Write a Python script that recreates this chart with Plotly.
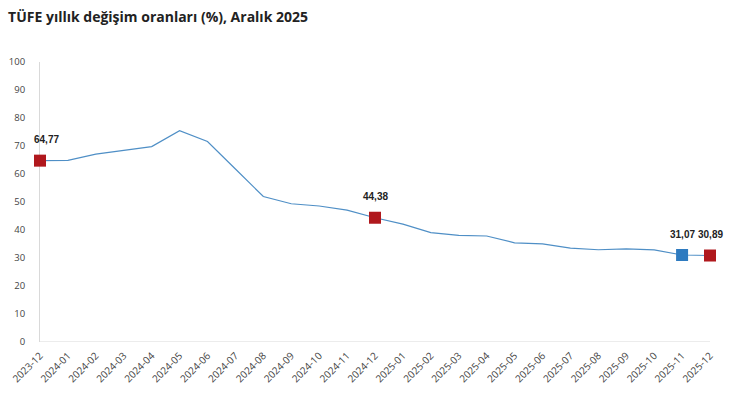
import plotly.graph_objects as go

months = ["2023-12", "2024-01", "2024-02", "2024-03", "2024-04", "2024-05", "2024-06",
          "2024-07", "2024-08", "2024-09", "2024-10", "2024-11", "2024-12", "2025-01",
          "2025-02", "2025-03", "2025-04", "2025-05", "2025-06", "2025-07", "2025-08",
          "2025-09", "2025-10", "2025-11", "2025-12"]
values = [64.77, 64.86, 67.07, 68.50, 69.80, 75.45, 71.60, 61.78, 51.97, 49.38, 48.58,
          47.09, 44.38, 42.12, 39.05, 38.10, 37.86, 35.41, 35.05, 33.52, 32.95, 33.29,
          32.87, 31.07, 30.89]
red_months = ["2023-12", "2024-12", "2025-12"]
blue_months = ["2025-11"]
y_ticks = [0, 10, 20, 30, 40, 50, 60, 70, 80, 90, 100]

lookup = dict(zip(months, values))

fig = go.Figure()
fig.add_trace(go.Scatter(x=months, y=values, mode="lines",
                         line=dict(color="#4f8fc6", width=1.2), hoverinfo="skip"))
fig.add_trace(go.Scatter(x=red_months, y=[lookup[m] for m in red_months], mode="markers",
                         marker=dict(symbol="square", size=12, color="#b0181d",
                                     line=dict(width=0)), cliponaxis=False))
fig.add_trace(go.Scatter(x=blue_months, y=[lookup[m] for m in blue_months], mode="markers",
                         marker=dict(symbol="square", size=12, color="#2e7bc0",
                                     line=dict(width=0)), cliponaxis=False))

for m in red_months + blue_months:
    v = lookup[m]
    label = f"{v:.2f}".replace(".", ",")
    fig.add_annotation(x=m, y=v, text=f"<b>{label}</b>",
                       showarrow=False, yshift=21, xshift=6 if m == months[0] else 0,
                       font=dict(size=10, color="#222222", family="Liberation Sans"))

fig.update_layout(
    width=734, height=398,
    margin=dict(l=40, r=24, t=62, b=56, autoexpand=False),
    paper_bgcolor="white", plot_bgcolor="white",
    showlegend=False,
    font=dict(family="Open Sans", color="#444444"),
    title=dict(text="<b>TÜFE yıllık değişim oranları (%), Aralık 2025</b>",
               x=0.011, xanchor="left", y=0.957, yanchor="middle",
               font=dict(size=14, color="#222222", family="Open Sans")),
)
fig.update_xaxes(type="category", range=[0, len(months) - 1], tickangle=-45,
                 automargin=False, layer="below traces",
                 showgrid=False, showline=False, zeroline=False, ticks="",
                 ticklabelstandoff=5,
                 tickfont=dict(size=10, color="#444444"))
fig.update_yaxes(range=[0, 100], tickvals=y_ticks, showgrid=False, zeroline=False,
                 automargin=False, layer="below traces",
                 showline=True, linecolor="#d9d9d9", linewidth=1, ticks="",
                 ticklabelstandoff=12,
                 tickfont=dict(size=9.5, color="#444444"))
fig.add_hline(y=0, line=dict(color="#d9d9d9", width=1), layer="below")

fig.write_html("out.html", config={"displayModeBar": False},
               post_script="document.body.style.margin='0';")
